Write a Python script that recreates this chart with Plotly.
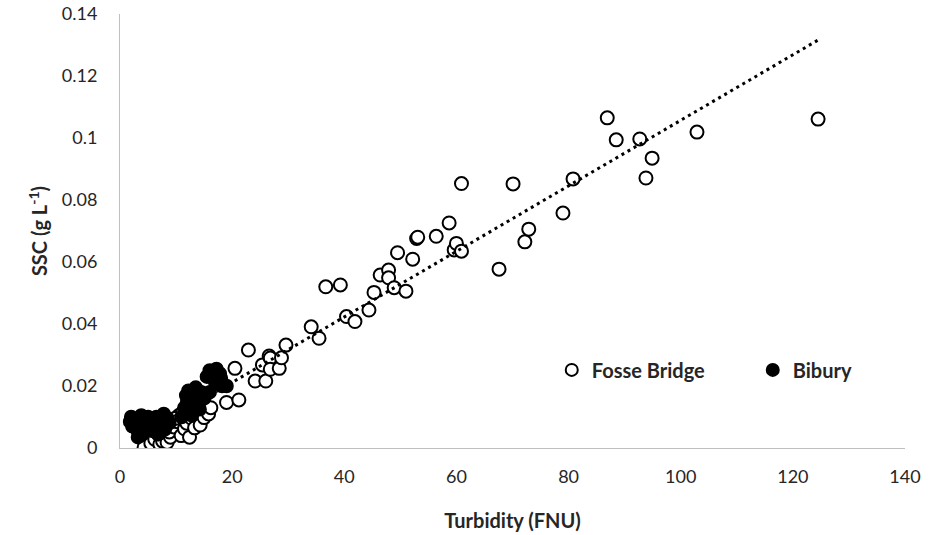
import plotly.graph_objects as go

# Fosse Bridge (open circles)
fosse_x = [4.3, 5.5, 6.2, 7.1, 7.6, 8.4, 9.0, 6.8, 7.4, 8.2, 8.8, 9.6, 10.2, 10.5, 10.9, 11.5,
           11.9, 12.4, 12.8, 13.3, 13.8, 14.3, 14.6, 15.0, 15.4, 15.8, 16.2, 9.8, 8.0, 6.0, 11.2, 13.0,
           19.0, 21.2, 20.5, 22.9, 24.1, 25.4, 26.0, 26.6, 26.8, 26.8, 28.4, 28.8, 29.6, 34.1, 35.5,
           36.7, 39.3, 40.4, 41.9, 44.4, 45.3, 46.4, 47.9, 47.9, 48.9, 49.5, 51.0, 52.2, 52.9, 53.1,
           56.4, 58.7, 59.6, 60.0, 60.9, 60.9, 67.6, 70.1, 72.2, 72.9, 79.0, 80.8, 86.9, 88.5, 92.7,
           93.8, 94.9, 102.9, 124.5]
fosse_y = [0.0002, 0.0015, 0.0028, 0.0012, 0.0022, 0.0018, 0.0035, 0.0045, 0.006, 0.0075, 0.0052,
           0.0068, 0.0085, 0.0105, 0.004, 0.0062, 0.008, 0.0035, 0.0095, 0.0065, 0.0112, 0.0074,
           0.0142, 0.0098, 0.0123, 0.011, 0.013, 0.0095, 0.0095, 0.0075, 0.0115, 0.0125,
           0.0147, 0.0155, 0.0257, 0.0316, 0.0216, 0.0268, 0.0216, 0.0297, 0.029, 0.0254, 0.0257,
           0.0291, 0.0332, 0.0391, 0.0354, 0.052, 0.0526, 0.0424, 0.0408, 0.0445, 0.0502, 0.0558,
           0.0574, 0.0549, 0.0517, 0.063, 0.0506, 0.0609, 0.0676, 0.068, 0.0683, 0.0726, 0.0639,
           0.066, 0.0635, 0.0853, 0.0577, 0.0852, 0.0665, 0.0706, 0.0758, 0.0868, 0.1065, 0.0994,
           0.0997, 0.0871, 0.0935, 0.1019, 0.1061]

# Bibury (filled circles)
bibury_x = [2.0, 2.2, 3.0, 3.5, 4.0, 4.5, 5.0, 5.3, 5.8, 6.0, 6.5, 7.0, 7.5, 8.0, 8.5, 3.2, 4.8,
            6.8, 2.6, 5.5, 1.8, 3.8, 7.8, 8.8,
            11.0, 11.5, 12.0, 12.5, 13.0, 13.5, 14.0, 14.5, 15.0, 15.5, 12.8, 14.2, 16.0,
            12.2, 13.5, 11.8,
            15.5, 16.5, 17.8, 17.0, 18.2, 19.0, 18.0, 16.0, 17.2]
bibury_y = [0.010, 0.007, 0.006, 0.008, 0.0045, 0.009, 0.010, 0.007, 0.0055, 0.0085, 0.010, 0.0075,
            0.009, 0.006, 0.0095, 0.0035, 0.0065, 0.0045, 0.0085, 0.0095, 0.0085, 0.0105, 0.011,
            0.008,
            0.010, 0.013, 0.015, 0.012, 0.016, 0.0145, 0.017, 0.018, 0.016, 0.0175, 0.0105, 0.0125,
            0.018, 0.0185, 0.0195, 0.017,
            0.023, 0.0235, 0.024, 0.021, 0.020, 0.020, 0.0225, 0.025, 0.0255]

# Linear trendline (Fosse Bridge)
trend_slope = 0.001057
trend_intercept = 0.0
trend_x = [min(fosse_x), max(fosse_x)]
trend_y = [trend_slope * v + trend_intercept for v in trend_x]

x_ticks = [0, 20, 40, 60, 80, 100, 120, 140]
y_ticks = [0, 0.02, 0.04, 0.06, 0.08, 0.1, 0.12, 0.14]
y_tick_text = ["0", "0.02", "0.04", "0.06", "0.08", "0.1", "0.12", "0.14"]

FONT = "Lato, 'Open Sans', sans-serif"
TXT = "#262626"

fig = go.Figure()
fig.add_trace(go.Scatter(
    x=fosse_x, y=fosse_y, mode="markers", name="Fosse Bridge", legendrank=1,
    marker=dict(symbol="circle", size=13, color="white", line=dict(color="black", width=2)),
))
fig.add_trace(go.Scatter(
    x=bibury_x, y=bibury_y, mode="markers", name="Bibury", legendrank=2,
    marker=dict(symbol="circle", size=13, color="black", line=dict(color="black", width=1.5)),
))
fig.add_trace(go.Scatter(
    x=trend_x, y=trend_y, mode="lines", showlegend=False, hoverinfo="skip",
    line=dict(color="black", width=3, dash="3px,4px"),
))

fig.update_layout(
    width=936, height=535,
    margin=dict(l=120, r=31, t=14, b=87, autoexpand=False),
    paper_bgcolor="white", plot_bgcolor="white",
    font=dict(family=FONT, size=18, color=TXT),
    showlegend=True,
    legend=dict(
        orientation="h", x=0.550, y=0.18, xanchor="left", yanchor="middle",
        bgcolor="rgba(0,0,0,0)", itemsizing="constant",
        entrywidth=156,
        font=dict(family=FONT, size=20, color=TXT, weight="bold"),
    ),
    xaxis=dict(
        range=[0, 140], tickvals=x_ticks, showgrid=False, zeroline=False,
        showline=True, linecolor="#bfbfbf", linewidth=1, ticks="", ticklabelstandoff=12,
        title=dict(text="Turbidity (FNU)", standoff=28,
                   font=dict(family=FONT, size=20, color=TXT, weight="bold")),
    ),
    yaxis=dict(
        range=[0, 0.14], tickvals=y_ticks, ticktext=y_tick_text, showgrid=False, zeroline=False,
        showline=True, linecolor="#bfbfbf", linewidth=1, ticks="", ticklabelstandoff=18,
        title=dict(text="SSC (g L<sup>-1</sup>)", standoff=8,
                   font=dict(family=FONT, size=20, color=TXT, weight="bold")),
    ),
)

fig.write_html("out.html")
